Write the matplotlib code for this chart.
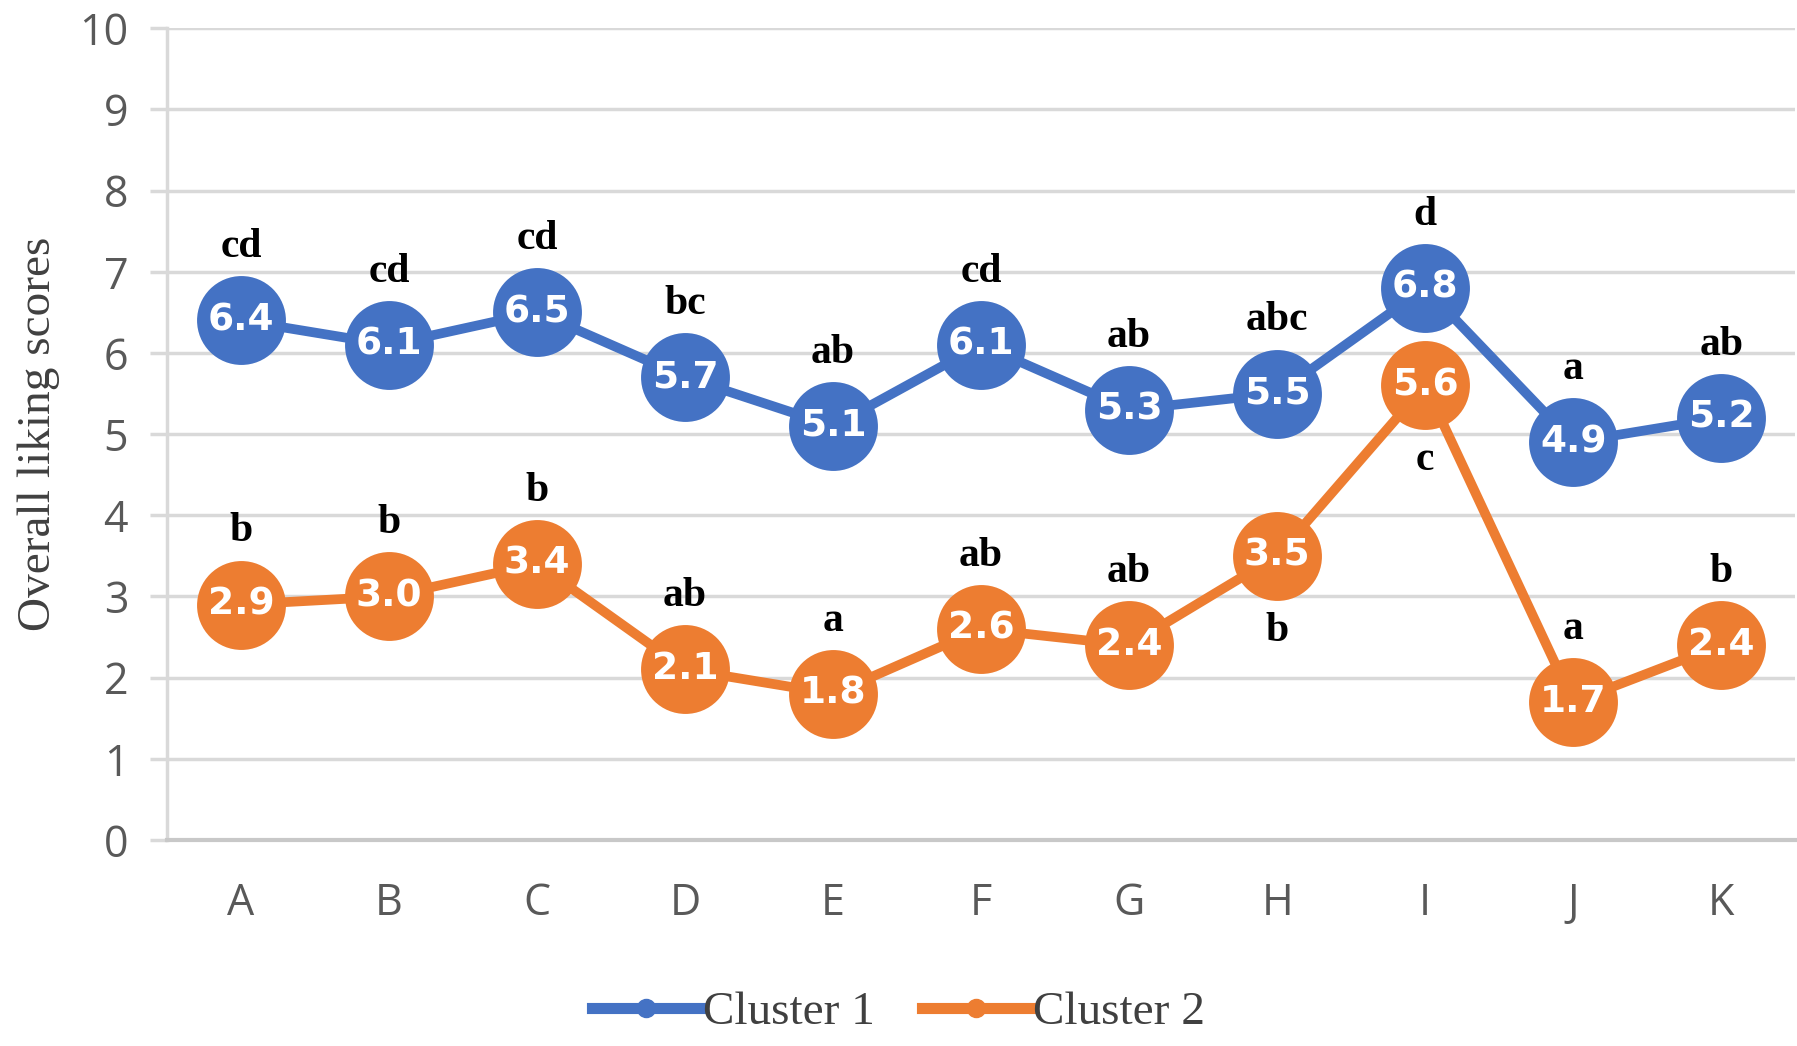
import matplotlib.pyplot as plt
from matplotlib.lines import Line2D

# Samples and overall liking scores per cluster
samples = ['A', 'B', 'C', 'D', 'E', 'F', 'G', 'H', 'I', 'J', 'K']
cluster1 = [6.4, 6.1, 6.5, 5.7, 5.1, 6.1, 5.3, 5.5, 6.8, 4.9, 5.2]
cluster2 = [2.9, 3.0, 3.4, 2.1, 1.8, 2.6, 2.4, 3.5, 5.6, 1.7, 2.4]

# Significance letters
letters1 = ['cd', 'cd', 'cd', 'bc', 'ab', 'cd', 'ab', 'abc', 'd', 'a', 'ab']
letters2 = ['b', 'b', 'b', 'ab', 'a', 'ab', 'ab', 'b', 'c', 'a', 'b']
# letters of cluster 2 that sit under the marker
below2 = ['H', 'I']

blue = '#4472C4'
orange = '#ED7D31'
grid_c = '#D9D9D9'

fig = plt.figure(figsize=(17.97, 10.46), dpi=100)
ax = fig.add_axes([0.093, 0.197, 0.906, 0.776])

x = list(range(len(samples)))
for vals, letters, color in [(cluster1, letters1, blue), (cluster2, letters2, orange)]:
    ax.plot(x, vals, color=color, lw=7, marker='o', markersize=64,
            markeredgewidth=0, zorder=3)
    for i, v in enumerate(vals):
        ax.text(i, v, f'{v:.1f}', color='white', fontsize=27, fontweight='bold',
                family='DejaVu Sans', ha='center', va='center', zorder=4)
        below = color == orange and samples[i] in below2
        ax.text(i, v - 0.92 if below else v + 0.9, letters[i], fontsize=30,
                fontweight='bold', family='Liberation Serif', color='black',
                ha='center', va='center', zorder=4)

ax.set_xlim(-0.5, len(samples) - 0.5)
ax.set_ylim(0, 10)
ax.set_yticks(range(0, 11))
ax.set_xticks(x)
ax.set_xticklabels(samples)
ax.grid(axis='y', color=grid_c, lw=2.5, zorder=0)
ax.set_axisbelow(True)

for side in ['top', 'right']:
    ax.spines[side].set_visible(False)
ax.spines['left'].set_color(grid_c)
ax.spines['left'].set_linewidth(2.5)
ax.spines['bottom'].set_color('#C8C8C8')
ax.spines['bottom'].set_linewidth(3)

ax.tick_params(axis='y', length=12, width=2.5, color=grid_c, pad=16,
               labelsize=31, labelcolor='#595959')
ax.tick_params(axis='x', length=0, pad=30, labelsize=31, labelcolor='#595959')
for lab in ax.get_xticklabels() + ax.get_yticklabels():
    lab.set_family('Open Sans')

ax.set_ylabel('Overall liking scores', family='Liberation Serif', fontsize=34,
              color='#404040', labelpad=14)

handles = [Line2D([], [], color=blue, lw=8, marker='o', markersize=13),
           Line2D([], [], color=orange, lw=8, marker='o', markersize=13)]
fig.legend(handles, ['Cluster 1', 'Cluster 2'], loc='center', ncol=2,
           bbox_to_anchor=(0.5, 0.032), frameon=False, handlelength=2.3,
           handletextpad=0.05, columnspacing=1.0,
           prop={'family': 'Liberation Serif', 'size': 34},
           labelcolor='#404040')

fig.savefig('out.png', dpi=100)
